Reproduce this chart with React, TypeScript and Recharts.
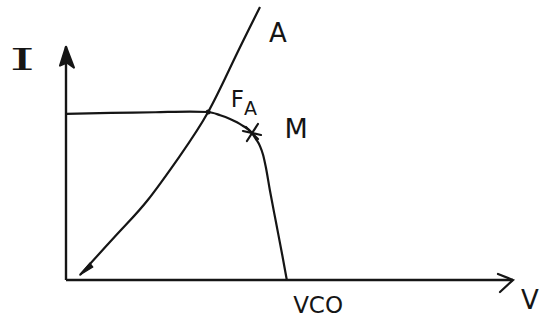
import { ComposedChart, Line, XAxis, YAxis, ReferenceLine, ReferenceDot } from "recharts";

// I-V characteristic of the cell (V, I in arbitrary units)
const curveV = [0, 10, 20, 27.7, 31.8, 34.5, 36.7, 39.4, 41.6, 42.5, 43.4, 44.1, 44.7, 45.6, 47.0, 48.4, 49.4];
const curveI = [71.2, 71.6, 71.9, 72.2, 72.0, 70.6, 69.0, 66.3, 63, 60.4, 57.4, 53.6, 48.4, 38.6, 24.5, 10.5, 0];

// load line A
const loadV = [3.1, 12.3, 18.3, 25.3, 31.8, 37.6, 43.4];
const loadI = [2.1, 21.4, 34.3, 52.7, 72.0, 94.5, 117];

// operating point F_A, max power point M, open-circuit voltage
const pointFA = { v: 31.8, i: 72.0 };
const pointM = { v: 41.6, i: 63 };
const vco = 49.4;
const axisMax = 100;

const curveData = curveV.map((v, k) => ({ v, i: curveI[k] }));
const loadData = loadV.map((v, k) => ({ v, i: loadI[k] }));

const INK = "#151515";
const HAND = "'DejaVu Sans', sans-serif";

const YArrow = ({ cx, cy }: any) => (
  <path d={`M${cx - 6},${cy + 19} L${cx},${cy} L${cx + 8},${cy + 21} L${cx + 1},${cy + 16} Z`} fill={INK} stroke={INK} strokeWidth={2} strokeLinejoin="round" />
);

const XArrow = ({ cx, cy }: any) => (
  <path d={`M${cx - 15},${cy - 6} L${cx},${cy} L${cx - 13},${cy + 12}`} fill="none" stroke={INK} strokeWidth={2.2} strokeLinecap="round" />
);

// small head drawn on the load line near the origin
const LoadHead = ({ cx, cy }: any) => (
  <path d={`M${cx},${cy} L${cx + 13},${cy - 8} L${cx + 10},${cy - 12} Z`} fill={INK} stroke={INK} strokeWidth={1.2} strokeLinejoin="round" />
);

const Star = ({ cx, cy }: any) => (
  <g stroke={INK} strokeWidth={2.2} strokeLinecap="round">
    <line x1={cx - 9} y1={cy - 2} x2={cx + 9} y2={cy + 2} />
    <line x1={cx - 5} y1={cy + 8} x2={cx + 6} y2={cy - 9} />
    <line x1={cx - 6} y1={cy - 6} x2={cx + 6} y2={cy + 6} />
  </g>
);

const Knot = ({ cx, cy }: any) => <circle cx={cx} cy={cy} r={2.5} fill={INK} />;

const Txt = (text: string, size: number, extra: any = {}) => ({ cx, cy }: any) => (
  <text x={cx} y={cy} fontSize={size} fontFamily={HAND} fill={INK} textAnchor="middle" dominantBaseline="central" {...extra}>
    {text}
  </text>
);

const LabelFA = ({ cx, cy }: any) => (
  <text x={cx - 14} y={cy + 4} fontSize={23} fontFamily={HAND} fill={INK}>
    F<tspan fontSize={19} dy={8}>A</tspan>
  </text>
);

const App = () => (
  <div style={{ position: "absolute", left: 0, top: 0, background: "#fff" }}>
    <ComposedChart width={541} height={324} margin={{ top: 0, right: 28, bottom: 44, left: 66 }}>
      <XAxis type="number" dataKey="v" domain={[0, 100]} hide />
      <YAxis type="number" dataKey="i" domain={[0, 120]} hide />

      {/* axes */}
      <ReferenceLine segment={[{ x: 0, y: 0 }, { x: axisMax, y: 0 }]} stroke={INK} strokeWidth={2.4} />
      <ReferenceLine segment={[{ x: 0, y: 0 }, { x: 0, y: axisMax }]} stroke={INK} strokeWidth={2.4} />
      <ReferenceDot x={0} y={axisMax} r={0} ifOverflow="visible" shape={YArrow} />
      <ReferenceDot x={axisMax} y={0} r={0} ifOverflow="visible" shape={XArrow} />

      <Line data={curveData} dataKey="i" type="monotone" stroke={INK} strokeWidth={2.2} dot={false} isAnimationActive={false} />
      <Line data={loadData} dataKey="i" type="natural" stroke={INK} strokeWidth={2.2} dot={false} isAnimationActive={false} />

      <ReferenceDot x={loadV[0]} y={loadI[0]} r={0} ifOverflow="visible" shape={LoadHead} />
      <ReferenceDot x={pointFA.v} y={pointFA.i} r={0} ifOverflow="visible" shape={Knot} />
      <ReferenceDot x={pointM.v} y={pointM.i} r={0} ifOverflow="visible" shape={Star} />

      {/* labels */}
      <ReferenceDot x={-9.8} y={94.3} r={0} ifOverflow="visible" shape={Txt("I", 30, { fontFamily: "'DejaVu Serif', serif", textLength: 26, lengthAdjust: "spacingAndGlyphs" })} />
      <ReferenceDot x={47.4} y={105.9} r={0} ifOverflow="visible" shape={Txt("A", 26)} />
      <ReferenceDot x={40} y={75.9} r={0} ifOverflow="visible" shape={LabelFA} />
      <ReferenceDot x={51.5} y={65.1} r={0} ifOverflow="visible" shape={Txt("M", 27)} />
      <ReferenceDot x={vco + 7} y={-10.7} r={0} ifOverflow="visible" shape={Txt("VCO", 23)} />
      <ReferenceDot x={103.8} y={-8.6} r={0} ifOverflow="visible" shape={Txt("V", 26)} />
    </ComposedChart>
  </div>
);

export default App;
